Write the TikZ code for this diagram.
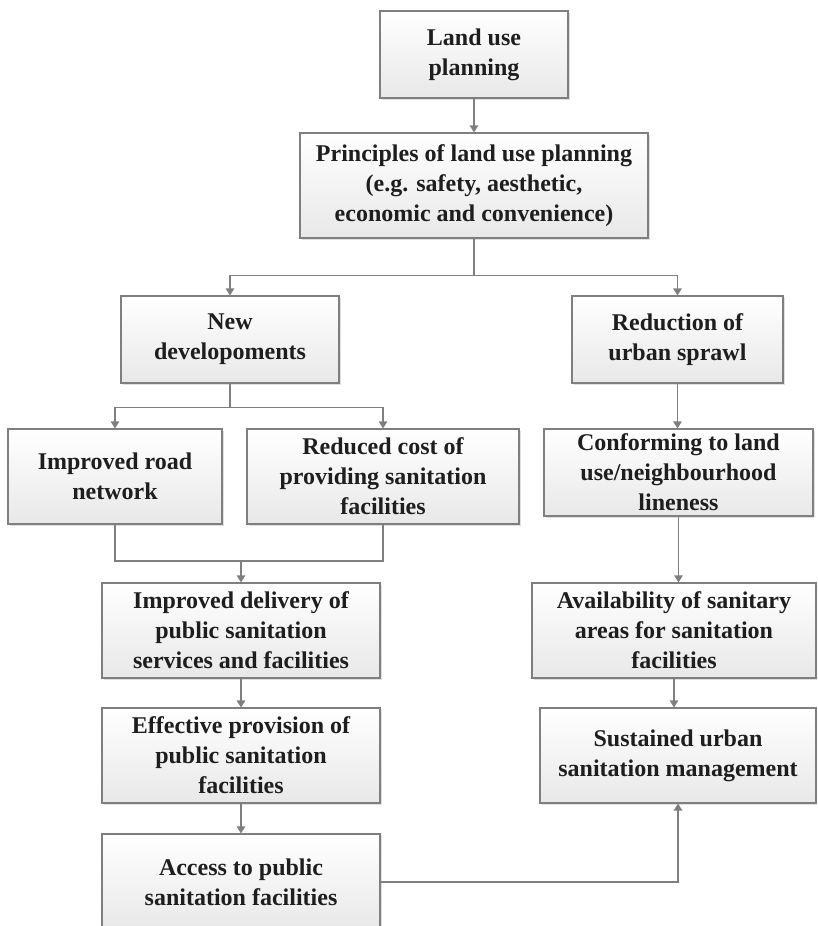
\documentclass[tikz,border=0pt]{standalone}
\usepackage{fontspec}
\setmainfont{Liberation Serif}
\usetikzlibrary{arrows.meta,shadows,calc}
\definecolor{edgegray}{HTML}{7F7F7F}
\definecolor{txt}{HTML}{1E1E1E}
\tikzset{
  box/.style={draw=edgegray, line width=1.1pt, rectangle, inner sep=0pt, align=center,
    top color=white, bottom color=black!9, text=txt,
    font=\bfseries\fontsize{24}{30}\selectfont,
    drop shadow={shadow xshift=1.5pt, shadow yshift=-1.5pt, fill=black, opacity=0.12}},
  link/.style={draw=edgegray, line width=1.1pt},
  conn/.style={link, -{Triangle[width=8.5pt,length=7pt]}}
}
\begin{document}
\begin{tikzpicture}[x=1pt,y=-1pt]
\useasboundingbox (0,0) rectangle (817,926);
\clip (0,0) rectangle (817,926);
\node[box, minimum width=188pt, minimum height=87pt] (b1) at (474,54.5) {Land use\\planning};
\node[box, minimum width=348pt, minimum height=105pt] (b2) at (474,185.5) {Principles of land use planning\\(e.g. safety, aesthetic,\\economic and convenience)};
\node[box, minimum width=218pt, minimum height=87pt] (b3) at (230,339.5) {New\\developoments};
\node[box, minimum width=211pt, minimum height=87pt] (b4) at (677.5,339.5) {Reduction of\\urban sprawl};
\node[box, minimum width=214pt, minimum height=95pt] (b5) at (115,476.5) {Improved road\\network};
\node[box, minimum width=272pt, minimum height=95pt] (b6) at (383,476.5) {Reduced cost of\\providing sanitation\\facilities};
\node[box, minimum width=269pt, minimum height=87pt] (b7) at (678.5,472.5) {Conforming to land\\use/neighbourhood\\lineness};
\node[box, minimum width=284pt, minimum height=95pt] (b9) at (674,630.5) {Availability of sanitary\\areas for sanitation\\facilities};
\node[box, minimum width=278pt, minimum height=95pt] (b8) at (241,630.5) {Improved delivery of\\public sanitation\\services and facilities};
\node[box, minimum width=278pt, minimum height=95pt] (b10) at (241,755.5) {Effective provision of\\public sanitation\\facilities};
\node[box, minimum width=276pt, minimum height=95pt] (b11) at (678,755.5) {Sustained urban\\sanitation management};
\node[box, minimum width=278pt, minimum height=96pt] (b12) at (241,882) {Access to public\\sanitation facilities};

\draw[conn] (b1.south) -- (b2.north);
\draw[link] (b2.south) -- ++(0,37) coordinate (j1);
\draw[conn] (j1) -| (b3.north);
\draw[conn] (j1) -| (b4.north);
\draw[link] (b3.south) -- ++(0,24) coordinate (j2);
\draw[conn] (j2) -| (b5.north);
\draw[conn] (j2) -| (b6.north);
\coordinate (j3) at (241,561);
\draw[link] (b5.south) |- (j3) -| (b6.south);
\draw[conn] (j3) -- (b8.north);
\draw[conn] (b4.south) -- (b4.south |- b7.north);
\draw[conn] (b7.south) -- (b7.south |- b9.north);
\draw[conn] (b8.south) -- (b10.north);
\draw[conn] (b10.south) -- (b12.north);
\draw[conn] (b9.south) -- (b9.south |- b11.north);
\draw[conn] (b12.east) -| (b11.south);
\end{tikzpicture}
\end{document}
